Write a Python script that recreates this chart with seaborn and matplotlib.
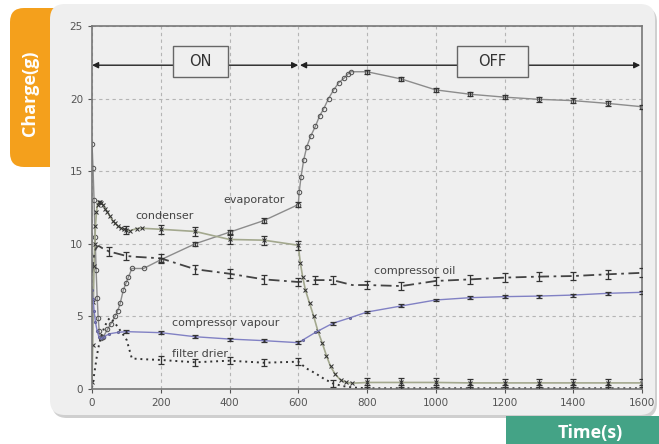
import numpy as np
import pandas as pd
import seaborn as sns
import matplotlib.pyplot as plt
from matplotlib.patches import FancyBboxPatch, Rectangle

sns.set_theme(style="ticks")
plt.rcParams['font.family'] = ['DejaVu Sans']

# --- data (time in s, charge in g) ---
evap_t = [0, 3, 6, 9, 12, 15, 18, 21, 25, 33, 45, 55, 67, 75, 82, 91, 99, 106, 116, 150,
          200, 300, 400, 500, 600, 603, 608, 616, 625, 636, 650, 662, 674, 688, 703, 718,
          733, 745, 752, 800, 900, 1000, 1100, 1200, 1300, 1400, 1500, 1600]
evap_g = [16.9, 15.2, 13.0, 10.5, 8.2, 6.3, 4.9, 4.0, 3.5, 3.6, 4.1, 4.5, 5.0, 5.4, 5.9, 6.8,
          7.3, 7.7, 8.3, 8.3, 8.9, 10.0, 10.8, 11.6, 12.7, 13.6, 14.6, 15.8, 16.7, 17.4, 18.1,
          18.8, 19.3, 20.0, 20.6, 21.1, 21.4, 21.7, 21.85, 21.85, 21.35, 20.6, 20.3, 20.1,
          19.95, 19.86, 19.67, 19.44]

cond_t = [0, 2, 4, 6, 8, 10, 13, 16, 20, 23, 27, 32, 38, 45, 52, 60, 68, 76, 84, 92, 100,
          111, 130, 145, 200, 300, 400, 500, 600, 606, 613, 621, 633, 645, 657, 670, 682,
          694, 708, 723, 740, 757, 800, 900, 1000, 1100, 1200, 1300, 1400, 1500, 1600]
cond_g = [0.5, 3.0, 6.0, 8.5, 10.0, 11.2, 12.2, 12.7, 12.9, 12.9, 12.8, 12.7, 12.4, 12.2,
          11.9, 11.6, 11.4, 11.2, 11.1, 11.0, 10.95, 10.9, 11.05, 11.07, 11.0, 10.85, 10.3,
          10.25, 9.9, 8.7, 7.7, 6.8, 5.9, 5.0, 4.0, 3.15, 2.3, 1.55, 1.0, 0.62, 0.45, 0.4,
          0.45, 0.45, 0.45, 0.42, 0.42, 0.42, 0.42, 0.42, 0.42]

oil_t = [0, 3, 6, 10, 15, 20, 30, 40, 50, 70, 100, 130, 200, 300, 400, 500, 600, 650, 700,
         757, 800, 900, 1000, 1100, 1200, 1300, 1400, 1500, 1600]
oil_g = [8.0, 8.6, 9.2, 9.6, 9.8, 9.85, 9.7, 9.6, 9.46, 9.35, 9.16, 9.1, 9.0, 8.25, 7.94,
         7.55, 7.37, 7.5, 7.5, 7.16, 7.16, 7.09, 7.44, 7.55, 7.67, 7.74, 7.78, 7.9, 8.0]

vap_t = [0, 3, 6, 10, 15, 20, 25, 35, 50, 75, 100, 200, 300, 400, 500, 600, 615, 650, 700,
         750, 800, 900, 1000, 1100, 1200, 1300, 1400, 1500, 1600]
vap_g = [6.8, 6.2, 5.4, 4.6, 4.0, 3.6, 3.5, 3.6, 3.8, 3.9, 3.95, 3.88, 3.6, 3.44, 3.33,
         3.19, 3.4, 3.9, 4.52, 4.9, 5.3, 5.72, 6.13, 6.29, 6.36, 6.4, 6.47, 6.59, 6.66]

fd_t = [0, 5, 10, 15, 20, 25, 35, 45, 52, 65, 80, 95, 101, 110, 116, 150, 200, 300, 400,
        500, 600, 625, 650, 675, 700, 730, 760, 800, 900, 1000, 1100, 1200, 1300, 1400,
        1500, 1600]
fd_g = [0.1, 0.8, 1.6, 2.4, 3.0, 3.5, 4.2, 4.7, 4.9, 4.6, 4.1, 3.6, 3.37, 2.6, 2.1, 2.05,
        2.0, 1.84, 1.95, 1.81, 1.88, 1.4, 1.08, 0.7, 0.39, 0.2, 0.1, 0.05, 0.05, 0.05, 0.05,
        0.05, 0.05, 0.05, 0.05, 0.05]

# error bar half widths (g), one per series
err = {"evaporator": 0.15, "condenser": 0.3, "compressor oil": 0.3,
       "compressor vapour": 0.1, "filter drier": 0.25}

series = {
    "evaporator": (evap_t, evap_g),
    "condenser": (cond_t, cond_g),
    "compressor oil": (oil_t, oil_g),
    "compressor vapour": (vap_t, vap_g),
    "filter drier": (fd_t, fd_g),
}

styles = {
    "evaporator": dict(color="#8c8c8c", linestyle="-", marker="o", markersize=3.2,
                       markerfacecolor="none", markeredgecolor="#555555", lw=1.0),
    "condenser": dict(color="#a3a88e", linestyle="-", marker="x", markersize=3.0,
                      markeredgecolor="#333333", lw=1.2),
    "compressor oil": dict(color="#444444", linestyle=(0, (6, 2.5, 1.5, 2.5)), marker="",
                           lw=1.3),
    "compressor vapour": dict(color="#8181c4", linestyle="-", marker=".", markersize=3,
                              markeredgecolor="#666699", lw=1.0),
    "filter drier": dict(color="#333333", linestyle=(0, (1, 2)), marker="", lw=1.4),
}

W, H = 659, 444
fig = plt.figure(figsize=(W / 100, H / 100), dpi=100)
fig.patch.set_facecolor("white")

# decorations: orange tab, panel with shadow, green tab
fig.patches.append(FancyBboxPatch((0.10, 2.77), 0.8, 1.59,
                                  boxstyle="round,pad=0,rounding_size=0.14",
                                  transform=fig.dpi_scale_trans, fc="#f4a01c", ec="none",
                                  zorder=0))
fig.patches.append(FancyBboxPatch((0.52, 0.26), 6.05, 4.11,
                                  boxstyle="round,pad=0,rounding_size=0.15",
                                  transform=fig.dpi_scale_trans, fc="#cfcfcf", ec="none",
                                  zorder=1))
fig.patches.append(FancyBboxPatch((0.50, 0.29), 6.05, 4.11,
                                  boxstyle="round,pad=0,rounding_size=0.15",
                                  transform=fig.dpi_scale_trans, fc="#efefef", ec="none",
                                  zorder=2))
fig.patches.append(Rectangle((5.06, -0.1), 1.7, 0.38, transform=fig.dpi_scale_trans,
                             fc="#44a386", ec="none", zorder=2))
fig.text(0.30, 3.51, "Charge(g)", transform=fig.dpi_scale_trans, rotation=90,
         ha="center", va="center", color="white", fontsize=13, fontweight="bold",
         family="Open Sans", zorder=5)
fig.text(5.90, 0.11, "Time(s)", transform=fig.dpi_scale_trans, ha="center", va="center",
         color="white", fontsize=13, fontweight="bold", family="Open Sans", zorder=5)

ax = fig.add_axes([92 / W, 55 / H, 550 / W, 363 / H])
ax.set_facecolor("none")
ax.set_zorder(3)

for name, (t, g) in series.items():
    df = pd.DataFrame({"t": t, "g": g})
    sns.lineplot(data=df, x="t", y="g", ax=ax, sort=False, estimator=None, **styles[name])
    # error bars on the 100 s samples
    sub = df[(df["t"] % 100 == 0) & (df["t"] >= 100)]
    if name == "compressor oil":
        sub = df[(df["t"] % 50 == 0) & (df["t"] >= 50)]
    ax.errorbar(sub["t"], sub["g"], yerr=err[name], fmt="none",
                ecolor="#333333", elinewidth=0.9, capsize=2.5, capthick=0.9, zorder=4)

# ON / OFF arrows and boxes
arrow = dict(arrowstyle="<|-|>", color="#222222", lw=1.0, shrinkA=0, shrinkB=0,
             mutation_scale=9)
ax.annotate("", xy=(0, 22.3), xytext=(600, 22.3), arrowprops=arrow)
ax.annotate("", xy=(605, 22.3), xytext=(1595, 22.3), arrowprops=arrow)
for x0, w, label in [(236, 160, "ON"), (1063, 204, "OFF")]:
    ax.add_patch(Rectangle((x0, 21.5), w, 2.13, fc="#efefef", ec="#666666", lw=1.0,
                           zorder=5))
    ax.text(x0 + w / 2, 22.55, label, ha="center", va="center", fontsize=10.5,
            color="#333333", zorder=6)

# series labels
labels = [(125, 11.9, "condenser"), (383, 13.0, "evaporator"),
          (819, 8.15, "compressor oil"), (232, 4.55, "compressor vapour"),
          (232, 2.43, "filter drier")]
for x, y, s in labels:
    ax.text(x, y, s, fontsize=8, color="#444444", va="center", ha="left")

ax.set_xlim(0, 1600)
ax.set_ylim(0, 25)
ax.set_xticks(np.arange(0, 1601, 200))
ax.set_yticks(np.arange(0, 26, 5))
ax.grid(True, color="#b5b5b5", linestyle=(0, (3, 3)), lw=0.8)
ax.tick_params(labelsize=7.5, colors="#555555", length=3, width=0.8)
for sp in ax.spines.values():
    sp.set_color("#777777")
    sp.set_linewidth(1.2)
ax.set_xlabel("")
ax.set_ylabel("")

fig.savefig("out.png", dpi=100)
